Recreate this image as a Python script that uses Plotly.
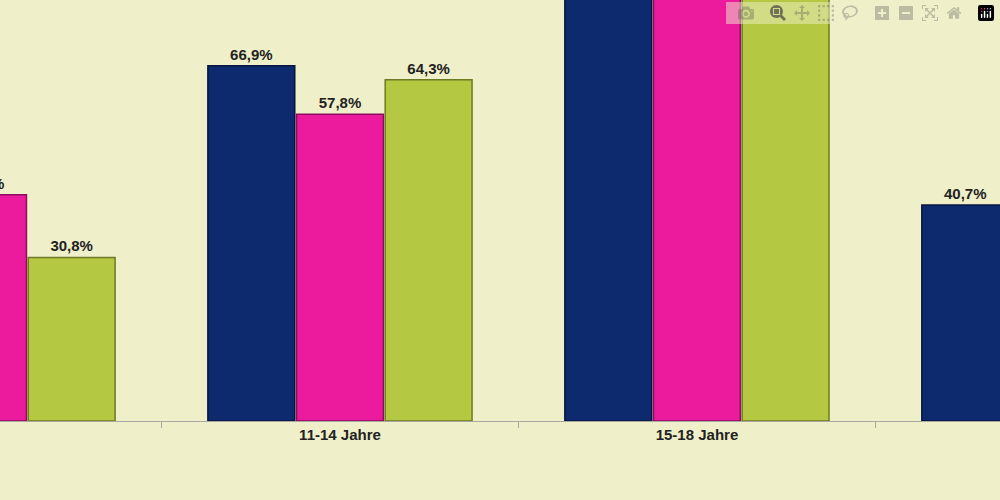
import plotly.graph_objects as go

categories = ["6-10 Jahre", "11-14 Jahre", "15-18 Jahre", "Gesamt"]
series_a = [48.0, 66.9, 86.0, 40.7]
series_b = [42.6, 57.8, 83.0, 36.0]
series_c = [30.8, 64.3, 85.0, 38.0]
names = ["Serie 1", "Serie 2", "Serie 3"]
colors = ["#0E2A6F", "#EC1B9E", "#B4C841"]
edges = ["#061640", "#8A0E5C", "#6E7A22"]

fig = go.Figure()
for name, vals, c, e in zip(names, [series_a, series_b, series_c], colors, edges):
    fig.add_trace(go.Bar(
        x=categories, y=vals, name=name,
        marker=dict(color=c, line=dict(color=e, width=1.5)),
        texttemplate="<b>%{y:.1f}%</b>", textposition="outside",
        textfont=dict(family="Liberation Sans", size=15, color="#222222"),
    ))

fig.update_layout(
    width=1000, height=500,
    margin=dict(l=0, r=0, t=0, b=79),
    paper_bgcolor="#EFF0CA", plot_bgcolor="#EFF0CA",
    barmode="group", bargap=0.255, bargroupgap=0.02,
    separators=",.",
    showlegend=False,
    font=dict(family="Liberation Sans", size=14, color="#222222"),
)
fig.update_xaxes(
    range=[0.0476, 2.849], showline=True, linecolor="#A8A8A0", linewidth=1,
    ticks="outside", tickson="boundaries", ticklen=6, tickcolor="#A8A8A0",
    tickfont=dict(family="Liberation Sans", size=15, color="#222222"),
    tickprefix="<b>", ticksuffix="</b>",
)
fig.update_yaxes(range=[0, 79.3], visible=False, showgrid=False)

fig.write_html("out.html", post_script="document.body.style.margin='0';document.body.style.background='#EFF0CA';")
